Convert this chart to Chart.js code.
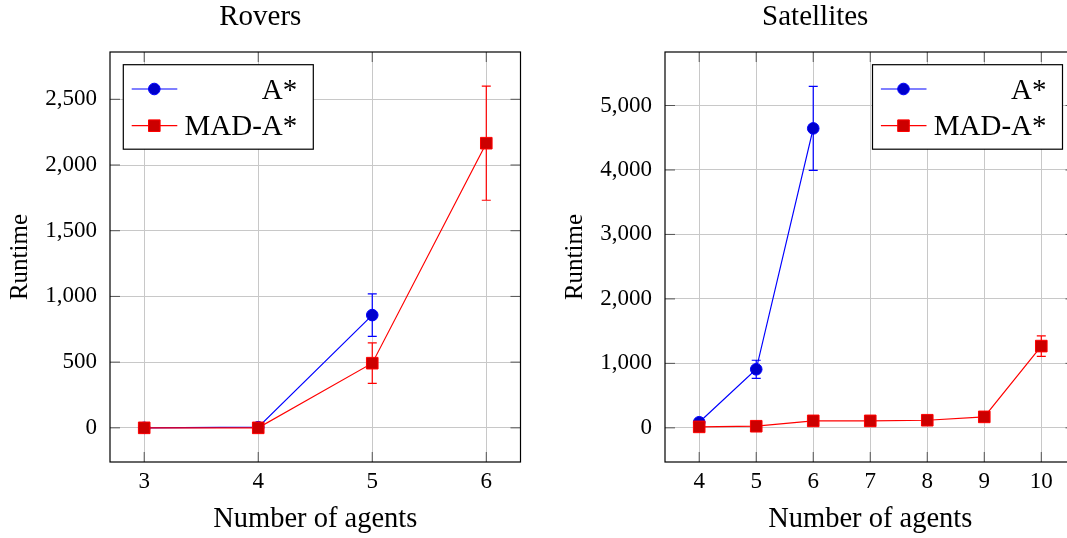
<!DOCTYPE html>
<html lang="en">
<head>
    <meta charset="UTF-8">
    <title>Rovers / Satellites runtime</title>
    <script src="https://cdn.jsdelivr.net/npm/chart.js"></script>
    <style>
        html, body { margin: 0; padding: 0; background: #fff; overflow: hidden; }
        body { width: 1067px; height: 538px; position: relative; }
        .panel { position: absolute; top: 0; width: 540px; height: 538px; }
        #roversBox { left: 0; }
        #satBox { left: 554.5px; }
    </style>
</head>
<body>
    <div class="panel" id="roversBox"><canvas id="roversChart"></canvas></div>
    <div class="panel" id="satBox"><canvas id="satChart"></canvas></div>

    <script>
        // Rovers
        const roversAgents = [3, 4, 5, 6];
        const roversAStar = [0, 5, 858, null];
        const roversAStarErr = [0, 0, 162, null];
        const roversMad = [0, 0, 492, 2166];
        const roversMadErr = [0, 0, 154, 434];
        const roversYTicks = [0, 500, 1000, 1500, 2000, 2500];

        // Satellites
        const satAgents = [4, 5, 6, 7, 8, 9, 10];
        const satAStar = [87, 908, 4645, null, null, null, null];
        const satAStarErr = [0, 140, 651, null, null, null, null];
        const satMad = [15, 25, 108, 108, 118, 170, 1268];
        const satMadErr = [0, 0, 0, 0, 0, 0, 158];
        const satYTicks = [0, 1000, 2000, 3000, 4000, 5000];

        const serif = "'Liberation Serif', 'DejaVu Serif', serif";
        Chart.defaults.color = '#000';
        Chart.defaults.font.family = serif;

        function points(xs, ys) {
            return xs.map((x, i) => ({ x: x, y: ys[i] }));
        }

        // frame, inner tick marks, error bars and the pgfplots-like legend
        const pgfPlugin = {
            id: 'pgf',
            beforeDatasetsDraw(chart) {
                const ctx = chart.ctx;
                const yScale = chart.scales.y;
                chart.data.datasets.forEach((ds, i) => {
                    if (!ds.errors) return;
                    const meta = chart.getDatasetMeta(i);
                    ctx.save();
                    ctx.strokeStyle = ds.borderColor;
                    ctx.lineWidth = 1.2;
                    ds.data.forEach((p, j) => {
                        const e = ds.errors[j];
                        if (p.y == null || !e) return;
                        const x = meta.data[j].x;
                        const top = yScale.getPixelForValue(p.y + e);
                        const bot = yScale.getPixelForValue(p.y - e);
                        ctx.beginPath();
                        ctx.moveTo(x, top); ctx.lineTo(x, bot);
                        ctx.moveTo(x - 4.5, top); ctx.lineTo(x + 4.5, top);
                        ctx.moveTo(x - 4.5, bot); ctx.lineTo(x + 4.5, bot);
                        ctx.stroke();
                    });
                    ctx.restore();
                });
            },
            afterDraw(chart, args, opts) {
                const { ctx, chartArea: a, scales } = chart;
                ctx.save();
                // inner tick marks
                ctx.strokeStyle = '#555';
                ctx.lineWidth = 1;
                ctx.beginPath();
                scales.x.ticks.forEach(t => {
                    const x = scales.x.getPixelForValue(t.value);
                    ctx.moveTo(x, a.bottom); ctx.lineTo(x, a.bottom - 10);
                    ctx.moveTo(x, a.top); ctx.lineTo(x, a.top + 10);
                });
                scales.y.ticks.forEach(t => {
                    const y = scales.y.getPixelForValue(t.value);
                    ctx.moveTo(a.left, y); ctx.lineTo(a.left + 10, y);
                    ctx.moveTo(a.right, y); ctx.lineTo(a.right - 10, y);
                });
                ctx.stroke();
                // frame
                ctx.strokeStyle = '#000';
                ctx.lineWidth = 1.2;
                ctx.strokeRect(a.left, a.top, a.right - a.left, a.bottom - a.top);

                // legend
                const w = 190, h = 84.5;
                const x0 = opts.corner === 'left' ? a.left + 13.3 : a.right - 13 - w;
                const y0 = a.top + 12.7;
                ctx.fillStyle = '#fff';
                ctx.fillRect(x0, y0, w, h);
                ctx.lineWidth = 1.2;
                ctx.strokeRect(x0, y0, w, h);
                const order = chart.data.datasets.slice().sort((p, q) => p.legendRow - q.legendRow);
                order.forEach((ds, i) => {
                    const ry = y0 + 24.3 + i * 36.7;
                    ctx.strokeStyle = ds.borderColor;
                    ctx.lineWidth = 1.2;
                    ctx.beginPath();
                    ctx.moveTo(x0 + 8.4, ry); ctx.lineTo(x0 + 54, ry);
                    ctx.stroke();
                    const mx = x0 + 31;
                    ctx.fillStyle = ds.pointBackgroundColor;
                    ctx.strokeStyle = ds.pointBorderColor;
                    ctx.lineWidth = 1;
                    ctx.beginPath();
                    if (ds.pointStyle === 'rect') {
                        ctx.rect(mx - 5.8, ry - 5.8, 11.6, 11.6);
                    } else {
                        ctx.arc(mx, ry, 5.8, 0, Math.PI * 2);
                    }
                    ctx.fill();
                    ctx.stroke();
                    ctx.fillStyle = '#000';
                    ctx.font = '29px ' + serif;
                    ctx.textAlign = 'right';
                    ctx.textBaseline = 'alphabetic';
                    ctx.fillText(ds.label, x0 + w - 16, ry + 9.5);
                });
                ctx.restore();
            }
        };

        function makeChart(canvasId, title, agents, aStar, aStarErr, mad, madErr, yTicks, yMin, yMax, xMin, xMax, corner) {
            return new Chart(document.getElementById(canvasId), {
                type: 'line',
                data: {
                    datasets: [
                        {
                            label: 'A*',
                            data: points(agents, aStar),
                            errors: aStarErr,
                            legendRow: 0,
                            order: 1,
                            borderColor: '#0000ff',
                            borderWidth: 1.2,
                            pointStyle: 'circle',
                            pointRadius: 5.8,
                            pointBackgroundColor: '#0000cc',
                            pointBorderColor: '#0000ff',
                            pointBorderWidth: 1,
                            tension: 0
                        },
                        {
                            label: 'MAD-A*',
                            data: points(agents, mad),
                            errors: madErr,
                            legendRow: 1,
                            order: 0,
                            borderColor: '#ff0000',
                            borderWidth: 1.2,
                            pointStyle: 'rect',
                            pointRadius: 8.2,
                            pointBackgroundColor: '#cc0000',
                            pointBorderColor: '#ff0000',
                            pointBorderWidth: 1,
                            tension: 0
                        }
                    ]
                },
                options: {
                    responsive: true,
                    maintainAspectRatio: false,
                    animation: false,
                    events: [],
                    layout: { padding: { left: 0, right: 19.5, top: 0, bottom: 0 } },
                    plugins: {
                        legend: { display: false },
                        tooltip: { enabled: false },
                        title: {
                            display: true,
                            text: title,
                            color: '#000',
                            font: { family: serif, size: 29, weight: 'normal' },
                            padding: { top: 0, bottom: 17.2 }
                        },
                        pgf: { corner: corner }
                    },
                    scales: {
                        x: {
                            type: 'linear',
                            min: xMin,
                            max: xMax,
                            afterBuildTicks: s => { s.ticks = agents.map(v => ({ value: v })); },
                            afterFit: s => { s.height = 76; },
                            grid: { color: '#c8c8c8', lineWidth: 1, drawTicks: false },
                            border: { display: false },
                            ticks: {
                                padding: 6,
                                font: { family: serif, size: 23 },
                                callback: v => String(v)
                            },
                            title: {
                                display: true,
                                text: 'Number of agents',
                                font: { family: serif, size: 28.5 },
                                padding: { top: 0, bottom: 1.4 }
                            }
                        },
                        y: {
                            type: 'linear',
                            min: yMin,
                            max: yMax,
                            afterBuildTicks: s => { s.ticks = yTicks.map(v => ({ value: v })); },
                            afterFit: s => { s.width = 110; },
                            grid: { color: '#c8c8c8', lineWidth: 1, drawTicks: false },
                            border: { display: false },
                            ticks: {
                                padding: 13,
                                font: { family: serif, size: 23 },
                                callback: v => v.toLocaleString('en-US')
                            },
                            title: {
                                display: true,
                                text: 'Runtime',
                                font: { family: serif, size: 25 },
                                padding: { top: 5, bottom: 0 }
                            }
                        }
                    }
                },
                plugins: [pgfPlugin]
            });
        }

        makeChart('roversChart', 'Rovers', roversAgents, roversAStar, roversAStarErr,
            roversMad, roversMadErr, roversYTicks, -260, 2860, 2.7, 6.3, 'left');
        makeChart('satChart', 'Satellites', satAgents, satAStar, satAStarErr,
            satMad, satMadErr, satYTicks, -530, 5830, 3.4, 10.6, 'right');
    </script>
</body>
</html>
